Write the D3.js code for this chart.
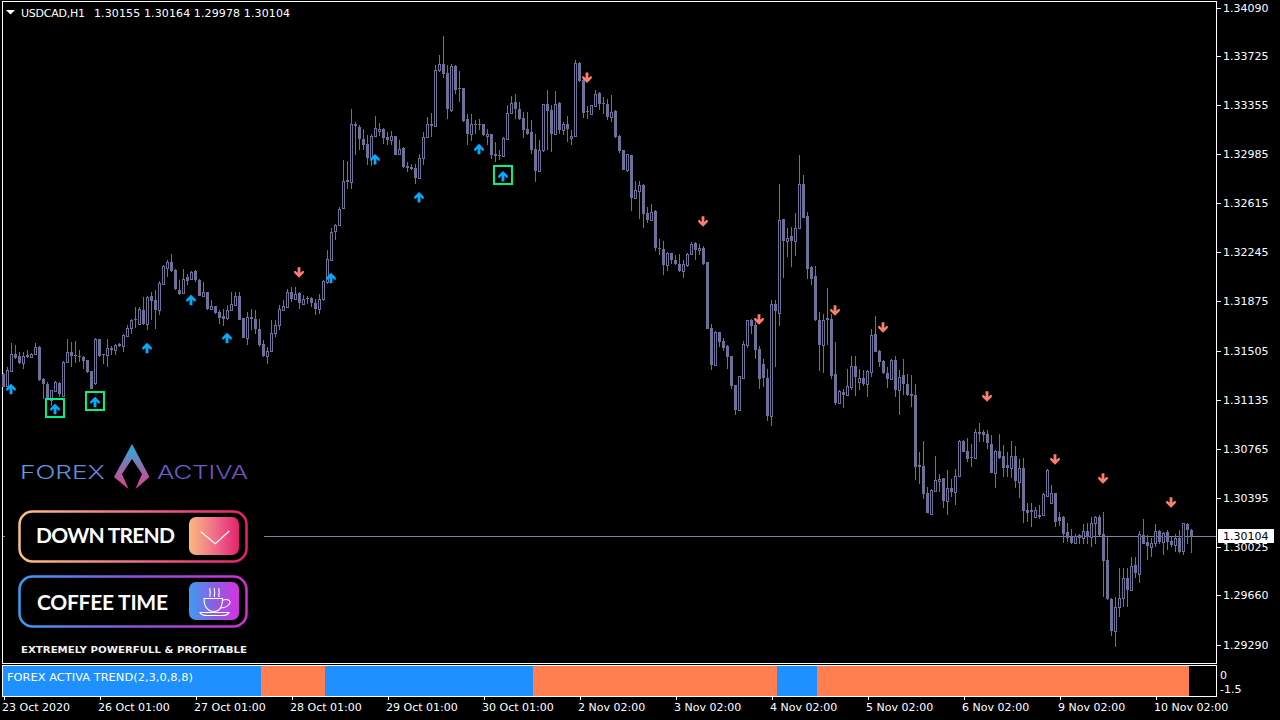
<!DOCTYPE html>
<html><head><meta charset="utf-8">
<script src="https://cdn.jsdelivr.net/npm/d3@7/dist/d3.min.js"></script>
<style>html,body{margin:0;padding:0;background:#000;overflow:hidden}svg{display:block}text{font-family:"DejaVu Sans",sans-serif}</style>
</head><body><div id="chart"></div>
<script>
// Prices in points (price x 100000)
const opens=[131331,131236,131351,131482,131462,131411,131474,131457,131482,131532,
131293,131251,131130,131200,131263,131163,131416,131497,131469,131467,
131457,131431,131349,131261,131590,131477,131469,131527,131507,131552,
131539,131617,131677,131745,131707,131813,131702,131913,131888,131808,
132009,132129,132169,132109,131964,131938,132059,132046,132104,132039,
131913,131943,131818,131838,131793,131763,131750,131808,131851,131913,
131750,131602,131758,131745,131670,131557,131464,131499,131640,131695,
131813,131833,131943,131896,131936,131859,131901,131904,131866,131816,
131891,132022,132190,132406,132448,132579,132787,132775,133214,133192,
133096,133059,132956,133121,133156,133172,133111,133089,133119,132986,
133029,132893,132888,132883,132805,132956,133114,133214,133194,133616,
133668,133598,133315,133646,133480,133480,133247,133134,133214,133209,
133209,133119,133134,132988,132981,132973,133096,133292,133375,133327,
133259,133172,133149,133021,132855,133013,133360,133315,133134,133367,
133164,133209,133106,133124,133671,133541,133310,133289,133347,133443,
133367,133365,133264,133307,133119,133013,132863,132978,132652,132707,
132749,132541,132486,132554,132280,132273,132147,132242,132189,132159,
132104,132147,132230,132312,132260,132275,132174,131677,131396,131642,
131574,131537,131461,131243,131055,131301,131547,131733,131695,131514,
131406,131301,131010,131858,131788,132493,132328,132365,132330,132425,
132762,132516,132134,132064,131733,131544,131748,131740,131326,131113,
131190,131168,131231,131386,131268,131296,131256,131344,131627,131502,
131424,131339,131288,131431,131205,131319,131256,131175,131168,130641,
130633,130428,130277,130448,130523,130543,130372,130473,130440,130558,
130822,130746,130706,130699,130892,130892,130879,130804,130583,130746,
130709,130641,130623,130709,130515,130623,130302,130302,130252,130269,
130264,130410,130357,130428,130247,130252,130134,130101,130056,130114,
130094,130144,130101,130202,130252,130126,129926,129632,129393,129569,
129637,129788,129700,129888,129825,130114,130064,130026,130056,130144,
130064,130139,130071,130039,130094,129993,130197,130155];
const highs=[131336,131381,131564,131544,131494,131494,131507,131487,131564,131537,
131301,131268,131211,131273,131268,131426,131590,131569,131574,131507,
131462,131436,131349,131597,131595,131482,131590,131539,131557,131562,
131632,131695,131745,131833,131833,131908,131913,131946,131959,132026,
132152,132184,132235,132122,132034,132122,132084,132104,132109,132041,
132021,131946,131883,131840,131808,131820,131851,131946,131946,131946,
131753,131795,131820,131808,131745,131587,131532,131733,131733,131846,
131883,131971,131984,131984,131948,131921,131914,131909,131896,131934,
132039,132260,132431,132461,132586,132943,132931,133322,133227,133202,
133172,133131,133134,133269,133222,133184,133151,133156,133124,133089,
133039,132926,132913,132913,132988,133151,133264,133297,133653,133729,
133879,133653,133666,133658,133608,133480,133289,133284,133244,133252,
133209,133172,133134,133076,133013,133114,133352,133420,133440,133377,
133302,133302,133239,133139,133089,133365,133465,133352,133458,133377,
133227,133269,133164,133691,133679,133566,133345,133357,133470,133453,
133415,133402,133433,133315,133126,133018,132988,132978,132780,132780,
132762,132586,132611,132561,132348,132328,132247,132242,132222,132235,
132184,132240,132325,132322,132310,132290,132174,131707,131652,131647,
131602,131544,131461,131248,131316,131574,131738,131745,131720,131539,
131444,131369,131883,131883,132762,132498,132430,132435,132541,132975,
132829,132548,132139,132139,131795,131783,131979,131783,131569,131205,
131218,131364,131461,131461,131369,131361,131361,131665,131768,131507,
131431,131381,131439,131461,131356,131444,131331,131319,131251,130741,
130822,130478,130458,130709,130578,130548,130603,130540,130616,130834,
130834,130849,130804,130917,130960,130904,130904,130867,130754,130879,
130792,130741,130822,130784,130691,130699,130357,130357,130327,130340,
130428,130616,130495,130433,130290,130257,130202,130164,130119,130126,
130197,130202,130252,130257,130264,130289,130101,129637,129650,129868,
129868,129863,129951,129946,130146,130232,130114,130089,130197,130151,
130139,130151,130101,130126,130151,130207,130207,130164];
const lows=[131231,131231,131351,131444,131406,131369,131452,131452,131477,131276,
131143,131143,131085,131193,131155,131155,131411,131381,131411,131419,
131369,131336,131213,131243,131457,131401,131381,131469,131469,131532,
131494,131612,131632,131677,131702,131695,131662,131733,131670,131770,
132004,132059,132097,131959,131926,131933,131996,132039,132021,131913,
131908,131808,131813,131783,131707,131687,131738,131803,131846,131733,
131602,131544,131657,131632,131532,131457,131401,131494,131607,131657,
131808,131828,131871,131883,131816,131854,131859,131834,131776,131783,
131879,132009,132185,132335,132443,132574,132720,132720,132976,133013,
133013,132900,132893,133114,133119,133064,133051,133051,132976,132981,
132880,132850,132868,132760,132800,132900,133109,133114,133189,133603,
133561,133252,133300,133440,133377,133227,133051,133081,133139,133169,
133124,133051,132951,132926,132938,132968,133089,133284,133252,133239,
133109,133131,132983,132775,132850,133001,133013,132998,133126,133134,
133126,133076,133051,133119,133528,133259,133252,133284,133340,133315,
133289,133239,133227,133109,132993,132863,132850,132554,132644,132493,
132428,132466,132481,132253,132227,132077,132104,132159,132147,132097,
132054,132134,132222,132189,132222,132149,131665,131356,131391,131532,
131502,131364,131218,131017,131050,131296,131527,131627,131439,131216,
131231,130975,130937,131381,131687,132051,132209,132134,132215,132420,
132503,132046,131996,131728,131351,131336,131544,131293,131093,131105,
131072,131163,131205,131163,131210,131241,131155,131306,131492,131381,
131331,131226,131283,131155,131017,131168,131160,131080,130533,130503,
130390,130282,130277,130440,130440,130322,130269,130403,130340,130553,
130739,130666,130628,130691,130817,130817,130761,130583,130470,130691,
130553,130553,130541,130473,130397,130207,130214,130177,130244,130239,
130259,130402,130352,130177,130184,130056,130064,130051,130051,130051,
130051,130046,130021,130051,130106,129650,129624,129353,129273,129494,
129569,129574,129695,129788,129750,130046,129926,129951,130026,130051,
129963,130001,130026,129988,129976,129963,130051,129978];
const closes=[131231,131356,131482,131452,131411,131467,131454,131482,131532,131281,
131251,131150,131205,131268,131175,131416,131497,131462,131462,131457,
131426,131344,131216,131595,131464,131469,131527,131512,131544,131537,
131620,131677,131738,131733,131815,131702,131908,131878,131813,132014,
132139,132169,132104,131966,131933,132046,132029,132097,132039,131916,
131943,131815,131838,131788,131753,131745,131808,131853,131913,131733,
131602,131755,131743,131670,131544,131462,131499,131640,131700,131815,
131838,131946,131896,131928,131861,131896,131891,131864,131816,131896,
132027,132197,132398,132453,132574,132780,132772,133214,133194,133096,
133051,132956,133124,133184,133177,133106,133089,133124,132981,133026,
132885,132880,132875,132805,132958,133116,133214,133194,133621,133666,
133591,133322,133646,133470,133473,133232,133134,133214,133207,133202,
133126,133139,132976,132968,132968,133106,133297,133372,133322,133252,
133164,133139,133013,132855,133013,133360,133307,133134,133365,133164,
133209,133177,133124,133673,133533,133297,133302,133352,133440,133360,
133360,133264,133305,133114,133006,132863,132983,132654,132712,132749,
132531,132486,132546,132278,132270,132147,132242,132184,132154,132102,
132159,132235,132310,132260,132280,132159,131670,131394,131647,131569,
131527,131456,131236,131055,131311,131552,131733,131690,131507,131288,
131296,131010,131858,131800,132491,132328,132355,132328,132430,132762,
132506,132122,132046,131733,131544,131733,131733,131311,131113,131198,
131170,131236,131386,131306,131296,131251,131349,131625,131497,131416,
131336,131291,131431,131205,131306,131251,131168,131163,130628,130628,
130423,130282,130453,130528,130540,130372,130473,130440,130561,130824,
130744,130691,130696,130892,130879,130867,130807,130583,130749,130694,
130623,130623,130709,130523,130623,130297,130282,130285,130302,130252,
130423,130603,130428,130214,130219,130126,130096,130056,130111,130094,
130144,130101,130209,130252,130114,129921,129632,129393,129569,129637,
129788,129700,129880,129830,130126,130051,130031,130056,130144,130064,
130131,130064,130039,130089,129988,130202,130151,130104];

const buyBars=[2,13,23,36,47,56,82,93,104,119,125];
const buyPrices=[131214,131063,131116,131522,131884,131598,132049,132945,132659,133021,132817];
const boxedBars=[13,23,125];
const sellBars=[74,146,175,189,208,220,246,263,275,292];
const sellPrices=[132095,133563,132479,131741,131808,131680,131161,130686,130543,130362];

const priceTicks=[134090,133725,133355,132985,132615,132245,131875,131505,131135,130765,130395,130025,129660,129290];
const timeLabels=["23 Oct 2020","26 Oct 01:00","27 Oct 01:00","28 Oct 01:00","29 Oct 01:00","30 Oct 01:00","2 Nov 02:00","3 Nov 02:00","4 Nov 02:00","5 Nov 02:00","6 Nov 02:00","9 Nov 02:00","10 Nov 02:00"];
const timeBarStep=24;
const currentPrice=130104;
const trendStarts=[0,65,81,133,194,204];
const trendEnds=[64,80,132,193,203,296];
const trendDirs=[1,-1,1,-1,1,-1];
const indicatorTicks=[0,-1.5];

const svg=d3.select("#chart").append("svg").attr("width",1280).attr("height",720);
svg.append("rect").attr("width",1280).attr("height",720).attr("fill","#000");
const defs=svg.append("defs");
function grad(id,stops,vertical){
  const g=defs.append("linearGradient").attr("id",id).attr("x1",0).attr("y1",0).attr("x2",vertical?0:1).attr("y2",vertical?1:0);
  stops.forEach((c,i)=>g.append("stop").attr("offset",i/(stops.length-1)).attr("stop-color",c));
}
grad("gDown",["#fcc27c","#f0708a","#e8206a"]);
grad("gDownBox",["#f9bb7c","#f0708a","#e5226c"]);
grad("gCoffee",["#3a9ef5","#8a55e0","#d030d0"]);
grad("gCoffeeBox",["#3f9cf2","#8a60e0","#d433e0"]);
grad("gLogo",["#18b8e2","#8a70b0","#e83f88"],true);
grad("gForex",["#5a9fe2","#6a80d8"]);
grad("gActiva",["#6a62cc","#7a4fc0"]);

const x=d3.scaleLinear().domain([0,297]).range([3.5,1191.5]);
const y=d3.scaleLinear().domain([134090,129290]).range([7.5,644.5]);
const CANDLE="#6d7098", WHITE="#fff";

// frames
const frame=svg.append("g").attr("fill","none").attr("stroke",WHITE).attr("shape-rendering","crispEdges");
frame.append("rect").attr("x",2.5).attr("y",1.5).attr("width",1214).attr("height",662);
frame.append("rect").attr("x",2.5).attr("y",665.5).attr("width",1214).attr("height",31);

// indicator histogram
const subY=d3.scaleLinear().domain([0.9,-2.2]).range([666,696]);
const trendBars=[];
trendStarts.forEach((s,i)=>d3.range(s,trendEnds[i]+1).forEach(k=>trendBars.push({k,d:trendDirs[i]})));
svg.append("g").attr("shape-rendering","crispEdges").selectAll("rect").data(trendBars).join("rect")
  .attr("x",d=>d.k===0?3:x(d.k)-2.5).attr("width",d=>d.k===0?2:4)
  .attr("y",subY(0.9)).attr("height",subY(-2.2)-subY(0.9))
  .attr("fill",d=>d.d>0?"#1e90ff":"#ff7f50");
svg.append("text").attr("x",7).attr("y",681).attr("font-size",11).attr("fill",WHITE)
  .attr("textLength",186).attr("lengthAdjust","spacingAndGlyphs").text("FOREX ACTIVA TREND(2,3,0,8,8)");

// current price line
svg.append("line").attr("x1",264).attr("x2",1216).attr("y1",y(currentPrice)).attr("y2",y(currentPrice))
  .attr("stroke","#7c84a0").attr("shape-rendering","crispEdges");

// candles
const bars=d3.range(opens.length).map(i=>({i,o:opens[i],h:highs[i],l:lows[i],c:closes[i]}));
const gc=svg.append("g").attr("shape-rendering","crispEdges");
const cg=gc.selectAll("g").data(bars).join("g");
cg.append("rect").attr("x",d=>x(d.i)-0.5).attr("width",1)
  .attr("y",d=>Math.round(y(d.h))).attr("height",d=>Math.max(1,Math.round(y(d.l))-Math.round(y(d.h))))
  .attr("fill",CANDLE);
cg.append("rect")
  .attr("x",d=>d.c>d.o?x(d.i)-1:x(d.i)-1.5)
  .attr("width",d=>d.c>d.o?2:3)
  .attr("y",d=>{const t=Math.round(y(Math.max(d.o,d.c)));return d.c>d.o?t+0.5:t;})
  .attr("height",d=>{const t=Math.round(y(Math.max(d.o,d.c))),b=Math.round(y(Math.min(d.o,d.c)));return Math.max(1,b-t);})
  .attr("fill",d=>d.c>d.o?"#000":CANDLE)
  .attr("stroke",d=>d.c>d.o?CANDLE:"none");

// arrows
const arrow="M0,-5.5L4.8,-0.7L4.8,1.3L3.3,1.3L1.4,-0.6L1.4,5L-1.4,5L-1.4,-0.6L-3.3,1.3L-4.8,1.3L-4.8,-0.7Z";
svg.append("g").selectAll("path").data(buyBars).join("path")
  .attr("d",arrow).attr("fill","#00aeff")
  .attr("transform",(d,i)=>`translate(${x(d)-0.5},${y(buyPrices[i])})`);
svg.append("g").selectAll("path").data(sellBars).join("path")
  .attr("d",arrow).attr("fill","#fa7f72")
  .attr("transform",(d,i)=>`translate(${x(d)-0.5},${y(sellPrices[i])}) scale(1,-1)`);
svg.append("g").attr("shape-rendering","crispEdges").selectAll("rect").data(boxedBars).join("rect")
  .attr("x",d=>x(d)-10).attr("width",18)
  .attr("y",d=>Math.round(y(buyPrices[buyBars.indexOf(d)]))-10.5).attr("height",18)
  .attr("fill","none").attr("stroke","#00f08e").attr("stroke-width",2);

// axes
const yAxis=d3.axisRight(y).tickValues(priceTicks).tickSize(4).tickPadding(3).tickFormat(p=>(p/1e5).toFixed(5));
const ya=svg.append("g").attr("transform","translate(1216.5,0)").call(yAxis);
const xAxis=d3.axisBottom(x).tickValues(timeLabels.map((_,i)=>i*timeBarStep)).tickSize(3).tickPadding(4).tickFormat((d,i)=>timeLabels[i]);
const xa=svg.append("g").attr("transform","translate(0,696.5)").call(xAxis);
const sy=d3.scaleLinear().domain([0,-1.5]).range([674.5,688.5]);
const sa=svg.append("g").attr("transform","translate(1216.5,0)").call(d3.axisRight(sy).tickValues(indicatorTicks).tickSize(0).tickPadding(3).tickFormat(d=>d===0?"0":d.toFixed(1)));
[ya,xa,sa].forEach(a=>{a.select(".domain").remove();a.selectAll("line").attr("stroke",WHITE).attr("shape-rendering","crispEdges");
  a.selectAll("text").attr("fill",WHITE).attr("font-size",11).attr("font-family","DejaVu Sans");});
ya.selectAll("text").attr("x",6.5);
sa.selectAll("text").attr("x",3.5);
xa.selectAll("text").attr("text-anchor","start").attr("x",-2).attr("y",7);

// current price flag
svg.append("rect").attr("x",1218).attr("y",529).attr("width",56).attr("height",14).attr("fill",WHITE);
svg.append("text").attr("x",1223).attr("y",y(currentPrice)+4).attr("font-size",11).attr("fill","#000").text((currentPrice/1e5).toFixed(5));
svg.append("line").attr("x1",3).attr("x2",5).attr("y1",y(currentPrice)).attr("y2",y(currentPrice)).attr("stroke","#7c84a0").attr("shape-rendering","crispEdges");

// header
svg.append("path").attr("d","M6,10L15,10L10.5,14.5Z").attr("fill",WHITE);
svg.append("text").attr("x",21).attr("y",17).attr("font-size",11).attr("fill",WHITE).attr("textLength",64).text("USDCAD,H1");
svg.append("text").attr("x",94).attr("y",17).attr("font-size",11).attr("fill",WHITE).attr("textLength",196)
  .text([opens[297],highs[297],lows[297],closes[297]].map(p=>(p/1e5).toFixed(5)).join(" "));

// logo panel
const lg=svg.append("g");
lg.append("text").attr("x",20).attr("y",479).attr("font-size",18).attr("style","font-family:Inter,Lato,sans-serif;font-weight:300")
  .attr("fill","url(#gForex)").attr("textLength",85).attr("lengthAdjust","spacingAndGlyphs").text("FOREX");
lg.append("text").attr("x",157).attr("y",479).attr("font-size",18).attr("style","font-family:Inter,Lato,sans-serif;font-weight:300")
  .attr("fill","url(#gActiva)").attr("textLength",91).attr("lengthAdjust","spacingAndGlyphs").text("ACTIVA");
lg.append("path").attr("d","M132,444L149.5,477L135.5,489L142,474L132,459L122,474L128.5,489L114,477Z").attr("fill","url(#gLogo)");
function button(yTop,strokeId,boxId,label,labelX,labelLen,baseline){
  lg.append("rect").attr("x",19.5).attr("y",yTop+1.5).attr("width",227).attr("height",50).attr("rx",13).attr("fill","none").attr("stroke",`url(#${strokeId})`).attr("stroke-width",2.5);
  lg.append("rect").attr("x",189).attr("y",yTop+7).attr("width",50).attr("height",38).attr("rx",7).attr("fill",`url(#${boxId})`);
  lg.append("text").attr("x",labelX).attr("y",baseline).attr("font-size",21).attr("style","font-family:Lato,sans-serif;font-weight:700").attr("fill",WHITE)
    .attr("textLength",labelLen).attr("lengthAdjust","spacing").text(label);
}
button(510,"gDown","gDownBox","DOWN TREND",36,139,543);
button(575,"gCoffee","gCoffeeBox","COFFEE TIME",37,131,610);
lg.append("path").attr("d","M200.7,531.7L215.3,543.7L229.3,531").attr("fill","none").attr("stroke",WHITE).attr("stroke-width",1.2);
const cup=lg.append("g").attr("fill","none").attr("stroke",WHITE).attr("stroke-width",1.1);
cup.append("path").attr("d","M204,598.5H222.5C222.5,607 219,611.5 213.5,611.5C208,611.5 204,607 204,598.5Z");
cup.append("path").attr("d","M222,600.5C228,598 232,601 229,604.5C227,607 223,608 220,608");
cup.append("path").attr("d","M200,612.5H229C228,615 225,615.5 222,615.5H207C204,615.5 201,615 200,612.5Z");
cup.append("path").attr("d","M210,588C209,590 211,592 210,594C209.5,595 210,596 210,597M214.5,588C213.5,590 215.5,592 214.5,594C214,595 214.5,596 214.5,597M219,588C218,590 220,592 219,594C218.5,595 219,596 219,597");
lg.append("text").attr("x",21).attr("y",653).attr("font-size",9).attr("font-weight",700).attr("fill","#f2f2f2")
  .attr("textLength",226).attr("lengthAdjust","spacingAndGlyphs").text("EXTREMELY POWERFULL & PROFITABLE");
</script></body></html>
